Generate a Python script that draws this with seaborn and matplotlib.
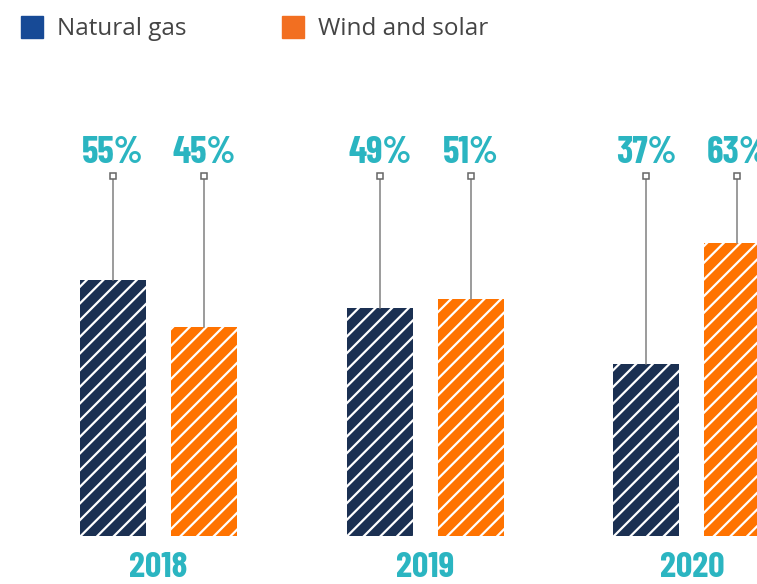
import pandas as pd
import matplotlib.pyplot as plt
import seaborn as sns
from matplotlib.patches import Patch
from matplotlib import font_manager

# chart data
years = ["2018", "2019", "2020"]
natural_gas = [55, 49, 37]
wind_solar = [45, 51, 63]
sources = ["Natural gas", "Wind and solar"]

df = pd.DataFrame({
    "year": years * 2,
    "share": natural_gas + wind_solar,
    "source": [sources[0]] * 3 + [sources[1]] * 3,
})

navy = "#1b3052"
orange = "#ff7300"
teal = "#2bb5c1"
grey = "#8a8a8a"

sns.set_style("white")
plt.rcParams["hatch.linewidth"] = 1.6

# pick a condensed face for the numbers
names = {f.name for f in font_manager.fontManager.ttflist}
narrow = "DejaVu Sans"
for cand in ["Barlow Condensed", "Oswald", "Saira Condensed", "Saira ExtraCondensed"]:
    if cand in names:
        narrow = cand
        break

fig = plt.figure(figsize=(7.57, 5.84), dpi=100)
ax = fig.add_axes([0, 48 / 584, 1, 536 / 584])

sns.barplot(data=df, x="year", y="share", hue="source", palette=[navy, orange],
            width=0.682, gap=0.275, saturation=1, legend=False, ax=ax)

for bar in ax.patches:
    bar.set_hatch("//")
    bar.set_edgecolor("white")
    bar.set_linewidth(0)

# leader lines and percentage labels
marker_y = 77.4
for cont, vals in zip(ax.containers, [natural_gas, wind_solar]):
    for bar, v in zip(cont, vals):
        cx = bar.get_x() + bar.get_width() / 2
        ax.plot([cx, cx], [bar.get_height(), marker_y], color=grey, lw=1.2, zorder=1)
        ax.plot(cx, marker_y, marker="s", ms=5, mfc="white", mec="#666666", mew=1.1, zorder=3)
        ax.text(cx, 80.2, f"{v}%", ha="center", va="baseline", color=teal,
                fontsize=27, fontweight="bold", family=narrow)

for i, y in enumerate(years):
    ax.text(i, -8.9, y, ha="center", va="baseline", color=teal,
            fontsize=26, fontweight="bold", family=narrow, clip_on=False)

ax.set_xlim(-0.594, 2.244)
ax.set_ylim(0, 115.3)
ax.axis("off")

handles = [Patch(color="#174a96"), Patch(color="#f26f21")]
fig.legend(handles, sources, ncol=2, loc="upper left", bbox_to_anchor=(21 / 757, 1 - 16 / 584),
           frameon=False, borderpad=0, borderaxespad=0, handlelength=0.9, handleheight=1.0,
           handletextpad=0.6, columnspacing=3.9,
           prop={"family": "Open Sans", "size": 17.5}, labelcolor="#444444")

plt.savefig("out.png", dpi=100)
